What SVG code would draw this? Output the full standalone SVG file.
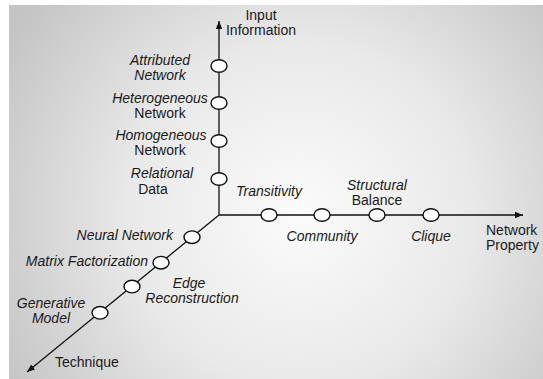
<svg xmlns="http://www.w3.org/2000/svg" width="543" height="379" viewBox="0 0 543 379">
  <style>
    .axis { stroke: #111; stroke-width: 1.3; fill: none; }
    .dot { fill: #fff; stroke: #111; stroke-width: 1.4; }
    text { font-family: "Liberation Sans", Arial, Helvetica, sans-serif; font-size: 14px; fill: #1a1a1a; }
    .it { font-style: italic; }
    .mid { text-anchor: middle; }
    .end { text-anchor: end; }
  </style>
  <defs>
    <radialGradient id="bg" gradientUnits="userSpaceOnUse" cx="300" cy="215" r="340">
      <stop offset="0" stop-color="#fbfbfb"/>
      <stop offset="0.5" stop-color="#e9e9e9"/>
      <stop offset="1" stop-color="#c4c4c4"/>
    </radialGradient>
    <marker id="arrow" viewBox="0 0 10 10" refX="10" refY="5" markerWidth="8" markerHeight="8" markerUnits="userSpaceOnUse" orient="auto">
      <path d="M0,1 L10,5 L0,9 Z" fill="#111"/>
    </marker>
  </defs>

  <!-- page -->
  <rect x="0" y="0" width="543" height="379" fill="#fff"/>
  <rect x="9" y="5" width="534" height="374" fill="url(#bg)"/>

  <!-- axes -->
  <g id="connectors">
    <line class="axis" x1="219" y1="215" x2="219" y2="21" marker-end="url(#arrow)"/>
    <line class="axis" x1="219" y1="215" x2="523" y2="215" marker-end="url(#arrow)"/>
    <line class="axis" x1="219" y1="215" x2="27" y2="372" marker-end="url(#arrow)"/>
  </g>

  <!-- axis titles -->
  <g id="axis-input">
    <text class="mid" x="261" y="20">Input</text>
    <text class="mid" x="261" y="35">Information</text>
  </g>
  <g id="axis-property">
    <text x="486" y="235">Network</text>
    <text x="486" y="250">Property</text>
  </g>
  <g id="axis-technique">
    <text x="55" y="367">Technique</text>
  </g>

  <!-- input information -->
  <g id="attributed-network">
    <ellipse class="dot" cx="219" cy="66" rx="8" ry="6.3"/>
    <text class="it mid" x="160" y="65">Attributed</text>
    <text class="it mid" x="160" y="80">Network</text>
  </g>
  <g id="heterogeneous-network">
    <ellipse class="dot" cx="219" cy="103" rx="8" ry="6.3"/>
    <text class="it mid" x="160" y="103">Heterogeneous</text>
    <text class="mid" x="160" y="118">Network</text>
  </g>
  <g id="homogeneous-network">
    <ellipse class="dot" cx="219" cy="141" rx="8" ry="6.3"/>
    <text class="it mid" x="161" y="140">Homogeneous</text>
    <text class="mid" x="160" y="155">Network</text>
  </g>
  <g id="relational-data">
    <ellipse class="dot" cx="219" cy="179" rx="8" ry="6.3"/>
    <text class="it mid" x="162" y="178">Relational</text>
    <text class="mid" x="153" y="194">Data</text>
  </g>

  <!-- network property -->
  <g id="transitivity">
    <ellipse class="dot" cx="269" cy="215" rx="8" ry="6.3"/>
    <text class="it mid" x="269" y="196">Transitivity</text>
  </g>
  <g id="community">
    <ellipse class="dot" cx="322" cy="215" rx="8" ry="6.3"/>
    <text class="it mid" x="322" y="241">Community</text>
  </g>
  <g id="structural-balance">
    <ellipse class="dot" cx="377" cy="215" rx="8" ry="6.3"/>
    <text class="it mid" x="377" y="190">Structural</text>
    <text class="mid" x="377" y="205">Balance</text>
  </g>
  <g id="clique">
    <ellipse class="dot" cx="431" cy="215" rx="8" ry="6.3"/>
    <text class="it mid" x="431" y="241">Clique</text>
  </g>

  <!-- technique -->
  <g id="neural-network">
    <ellipse class="dot" cx="192" cy="237.2" rx="8" ry="6.3"/>
    <text class="it end" x="173" y="240">Neural Network</text>
  </g>
  <g id="matrix-factorization">
    <ellipse class="dot" cx="161" cy="262.7" rx="8" ry="6.3"/>
    <text class="it end" x="148" y="266">Matrix Factorization</text>
  </g>
  <g id="edge-reconstruction">
    <ellipse class="dot" cx="132" cy="286.6" rx="8" ry="6.3"/>
    <text class="it mid" x="189" y="288">Edge</text>
    <text class="it mid" x="192" y="303">Reconstruction</text>
  </g>
  <g id="generative-model">
    <ellipse class="dot" cx="100" cy="312.8" rx="8" ry="6.3"/>
    <text class="it mid" x="51" y="308">Generative</text>
    <text class="it mid" x="51" y="323">Model</text>
  </g>
</svg>
